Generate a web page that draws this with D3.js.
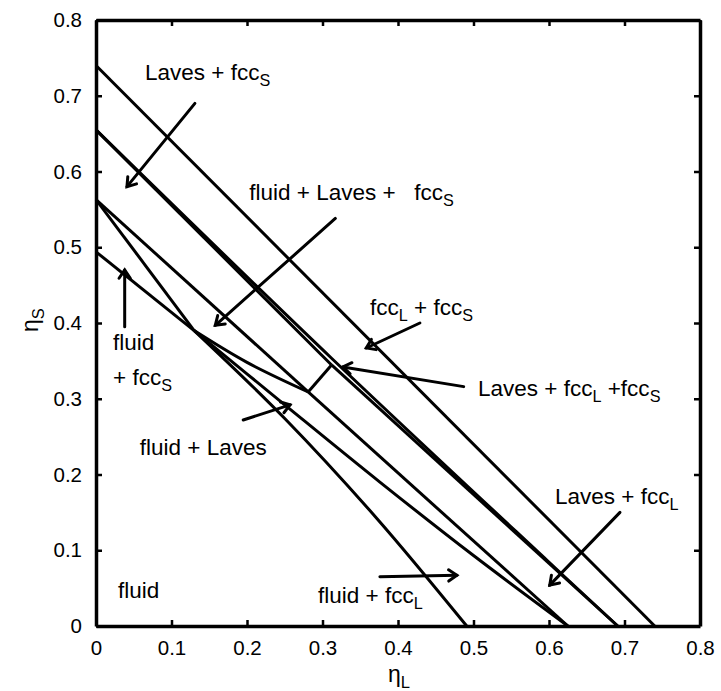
<!DOCTYPE html>
<html>
<head>
<meta charset="utf-8">
<script src="https://cdn.jsdelivr.net/npm/d3@7"></script>
<style>
  body { margin: 0; background: #fff; }
  text { font-family: "Liberation Sans", Arial, sans-serif; fill: #000; }
</style>
</head>
<body>
<svg class="svg"></svg>
<script>
// axis ticks (both axes go 0..0.8)
let etaTicks = [0, 0.1, 0.2, 0.3, 0.4, 0.5, 0.6, 0.7, 0.8]

// phase boundaries, [etaL, etaS]
let lineOuter = [[0, 0.74], [0.74, 0]]
let lineMid = [[0, 0.655], [0.312, 0.3535], [0.597, 0.087], [0.691, 0]]
let lineMidInner = [[0, 0.655], [0.312, 0.3446]]
let lineMidInner2 = [[0.312, 0.3446], [0.691, 0]]
let lineSL = [[0, 0.563], [0.281, 0.309]]
let lineTieS = [[0, 0.563], [0.13, 0.39]]
let lineFluid = [[0.13, 0.39], [0.25, 0.274], [0.372, 0.142], [0.491, 0]]
let lineTieF = [[0, 0.494], [0.13, 0.39]]
let lineLow = [[0.13, 0.39], [0.25, 0.292], [0.376, 0.19], [0.5, 0.093], [0.625, 0]]
let lineFL = [[0.13, 0.39], [0.2, 0.348], [0.281, 0.309]]
let lineLaves = [[0.281, 0.309], [0.312, 0.3446]]
let lineLfcc = [[0.281, 0.309], [0.625, 0]]
let boundaries = [lineOuter, lineMid, lineMidInner, lineMidInner2, lineSL, lineTieS, lineFluid,
                  lineTieF, lineLow, lineFL, lineLaves, lineLfcc]

// region labels: text, anchor [etaL, etaS], arrow from -> to
let labelText = ["Laves + fcc_S", "fluid + Laves +   fcc_S", "fcc_L + fcc_S", "Laves + fcc_L +fcc_S",
                 "fluid", "+ fcc_S", "fluid + Laves", "Laves + fcc_L", "fluid + fcc_L", "fluid"]
let labelPos = [[0.065, 0.721], [0.203, 0.562], [0.363, 0.411], [0.506, 0.303],
                [0.0225, 0.364], [0.0225, 0.318], [0.058, 0.226], [0.608, 0.161], [0.294, 0.030], [0.029, 0.037]]
let arrows = [
    [[0.131, 0.690], [0.041, 0.580]],
    [[0.317, 0.538], [0.158, 0.397]],
    [[0.429, 0.400], [0.358, 0.367]],
    [[0.487, 0.316], [0.327, 0.342]],
    [[0.038, 0.395], [0.038, 0.470]],
    [[0.195, 0.272], [0.257, 0.292]],
    [[0.694, 0.150], [0.601, 0.054]],
    [[0.376, 0.065], [0.478, 0.067]]
]

let drawChart = () => {
    let svg = d3.select(".svg").attr("width", 721).attr("height", 691)
    let x = d3.scaleLinear().domain([0, 0.8]).range([96, 700])
    let y = d3.scaleLinear().domain([0, 0.8]).range([626, 20])
    let fmt = (d) => d === 0 ? "0" : d3.format(".1f")(d)

    // axes, ticks pointing inward
    let ax = [
        [d3.axisBottom(x).tickFormat(fmt), "translate(0,626)", true],
        [d3.axisLeft(y).tickFormat(fmt), "translate(96,0)", true],
        [d3.axisTop(x).tickFormat(""), "translate(0,20)", false],
        [d3.axisRight(y).tickFormat(""), "translate(700,0)", false]
    ]
    ax.forEach(([a, t, lab]) => {
        let g = svg.append("g").attr("transform", t)
            .call(a.tickValues(etaTicks).tickSizeInner(-6).tickSizeOuter(0).tickPadding(lab ? 14 : 0))
        g.select(".domain").attr("stroke-width", 3.5)
        g.selectAll(".tick line").attr("stroke-width", 2.5)
        g.selectAll(".tick text").style("font-size", "20.5px").attr("font-family", "Liberation Sans, Arial, sans-serif")
    })

    let line = d3.line().x(d => x(d[0])).y(d => y(d[1])).curve(d3.curveCatmullRom.alpha(0.5))
    svg.selectAll("path.bound")
        .data(boundaries)
        .enter()
        .append("path")
        .attr("class", "bound")
        .attr("d", line)
        .attr("fill", "none")
        .attr("stroke", "#000")
        .attr("stroke-width", 3)
        .attr("stroke-linejoin", "round")

    // arrows with open heads
    arrows.forEach(([a, b]) => {
        let x1 = x(a[0]), y1 = y(a[1]), x2 = x(b[0]), y2 = y(b[1])
        let ang = Math.atan2(y2 - y1, x2 - x1)
        let g = svg.append("g").attr("stroke", "#000").attr("stroke-width", 3).attr("fill", "none")
            .attr("stroke-linecap", "round")
        g.append("line").attr("x1", x1).attr("y1", y1).attr("x2", x2).attr("y2", y2)
        let h = 10
        g.append("path").attr("d",
            "M" + (x2 - h * Math.cos(ang - 0.6)) + "," + (y2 - h * Math.sin(ang - 0.6)) +
            "L" + x2 + "," + y2 +
            "L" + (x2 - h * Math.cos(ang + 0.6)) + "," + (y2 - h * Math.sin(ang + 0.6)))
    })

    // text with subscripts written as _X
    let addText = (g, str, size) => {
        let parts = str.split(/_(.)/)
        parts.forEach((p, i) => {
            if (p === "") return
            let sub = i % 2 === 1
            g.append("tspan")
                .style("font-size", sub ? (size * 0.72) + "px" : size + "px")
                .attr("dy", sub ? 6 : (i > 0 ? -6 : 0))
                .text(p)
        })
    }
    labelText.forEach((t, i) => {
        let g = svg.append("text")
            .attr("x", x(labelPos[i][0]))
            .attr("y", y(labelPos[i][1]))
            .style("white-space", "pre")
        addText(g, t, 22.5)
    })

    // axis titles
    let xt = svg.append("text").attr("x", 388).attr("y", 682)
    addText(xt, "\u03b7_L", 23)
    let yt = svg.append("text").attr("transform", "translate(38,332) rotate(-90)")
    addText(yt, "\u03b7_S", 23)
}

drawChart()
</script>
</body>
</html>
